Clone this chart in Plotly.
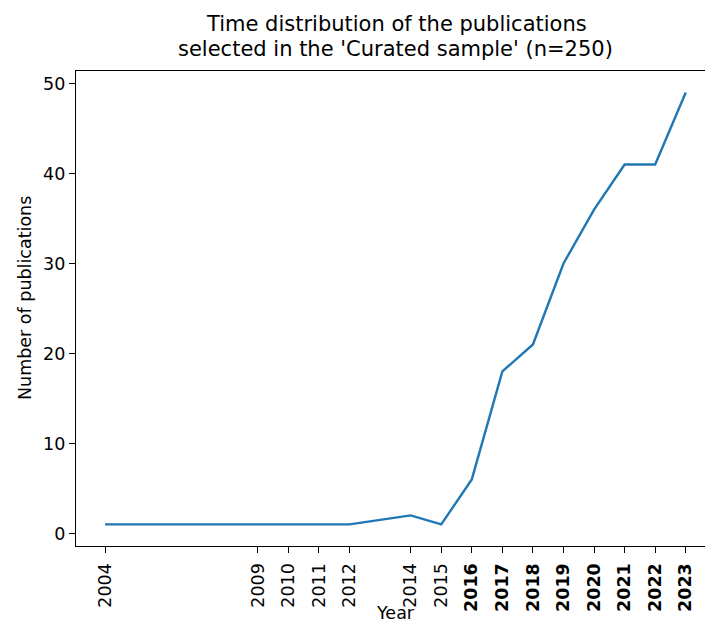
import plotly.graph_objects as go

years = [2004, 2009, 2010, 2011, 2012, 2014, 2015, 2016, 2017, 2018, 2019, 2020, 2021, 2022, 2023]
counts = [1, 1, 1, 1, 1, 2, 1, 6, 18, 21, 30, 36, 41, 41, 49]
bold_from = 2016
tick_text = [f"<b>{y}</b>" if y >= bold_from else str(y) for y in years]
y_ticks = [0, 10, 20, 30, 40, 50]

title_lines = ["Time distribution of the publications",
               "selected in the 'Curated sample' (n=250)"]

fig = go.Figure()
fig.add_trace(go.Scatter(x=years, y=counts, mode="lines",
                         line=dict(color="#1f77b4", width=2.4), showlegend=False))

font = "DejaVu Sans, Liberation Sans, sans-serif"
W, H = 705, 623
L, R, T, B = 76, 0, 71, 77
pw = W - L - R
ph = H - T - B
# matplotlib-like 5% margins; right edge cropped by window
xmin = 2004 - 0.05 * 19
px_per_year = (685.7 - 105) / 19
xmax = xmin + pw / px_per_year

def px_x(p):
    return (p - L) / pw

fig.update_layout(
    width=W, height=H,
    margin=dict(l=L, r=R, t=T, b=B, autoexpand=False),
    paper_bgcolor="white", plot_bgcolor="white",
    font=dict(family=font, size=17.5, color="#000"),
    xaxis=dict(range=[xmin, xmax], tickmode="array", tickvals=years, ticktext=tick_text,
               tickangle=-90, showgrid=False, zeroline=False, showline=True, mirror=True,
               linecolor="#000", linewidth=1.4, ticks="outside", ticklen=6, tickwidth=1.4,
               tickcolor="#000", automargin=False, ticklabelstandoff=3,
               tickfont=dict(size=17.5, color="#000")),
    yaxis=dict(range=[-1.4, 51.4], tickmode="array", tickvals=y_ticks, showgrid=False,
               zeroline=False, showline=True, linecolor="#000", linewidth=1.4,
               ticks="outside", ticklen=6, tickwidth=1.4, tickcolor="#000", automargin=False,
               tickfont=dict(size=17.5, color="#000")),
    annotations=[
        dict(text=title_lines[0], xref="paper", yref="paper", x=px_x(396), y=1,
             yshift=T - 23.5, xanchor="center", yanchor="middle", showarrow=False,
             font=dict(size=21, color="#000")),
        dict(text=title_lines[1], xref="paper", yref="paper", x=px_x(395), y=1,
             yshift=T - 49, xanchor="center", yanchor="middle", showarrow=False,
             font=dict(size=21, color="#000")),
        dict(text="Year", xref="paper", yref="paper", x=px_x(395), y=0,
             yshift=-(613 - (H - B)), xanchor="center", yanchor="middle", showarrow=False,
             font=dict(size=17.5, color="#000")),
        dict(text="Number of publications", xref="paper", yref="paper", x=0,
             y=(H - B - 298) / ph, xshift=-(L - 25), xanchor="center", yanchor="middle",
             textangle=-90, showarrow=False, font=dict(size=17.5, color="#000")),
    ],
)

fig.write_html("out.html", config={"displayModeBar": False},
               post_script="document.body.style.margin='0px';document.body.style.overflow='hidden';")
